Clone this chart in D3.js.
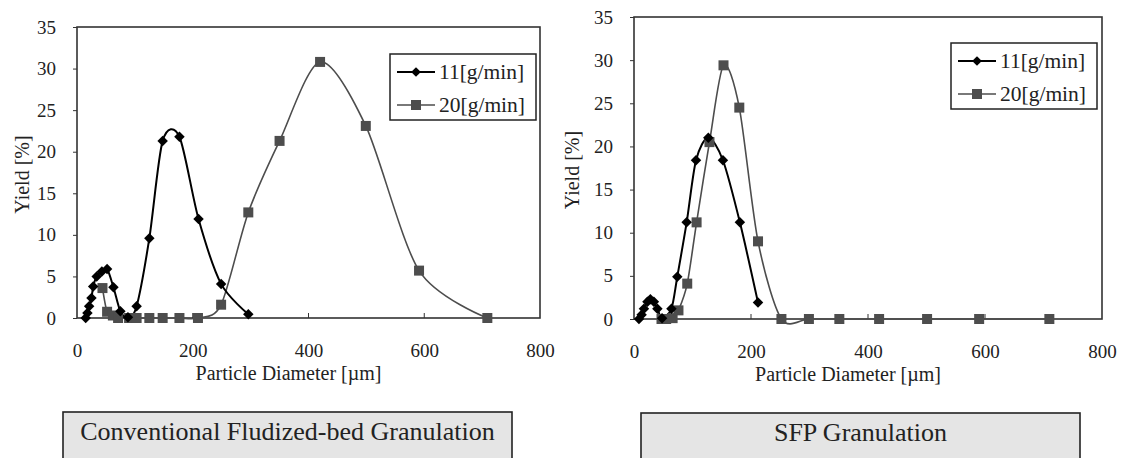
<!DOCTYPE html>
<html>
<head>
<meta charset="utf-8">
<script src="https://cdn.jsdelivr.net/npm/d3@7"></script>
<style>
  body { margin: 0; background: #fff; }
  text { font-family: "Liberation Serif", "Times New Roman", serif; fill: #222; }
</style>
</head>
<body>
<svg width="1123" height="458"></svg>
<script>
const svg = d3.select('svg');

///////////////////////////////////////////////////////////////
// data
///////////////////////////////////////////////////////////////
const seriesNames = ['11[g/min]', '20[g/min]'];
const panelTitles = ['Conventional Fludized-bed Granulation', 'SFP Granulation'];
const xTicks = [0, 200, 400, 600, 800];
const yTicks = [0, 5, 10, 15, 20, 25, 30, 35];

// conventional, 11 g/min
const convD11 = [15, 18, 21, 25, 28, 34, 43, 52, 63, 75, 88, 103, 125, 148, 177, 210, 249, 296];
const convY11 = [0, 0.6, 1.4, 2.4, 3.8, 5.0, 5.6, 5.9, 3.7, 0.8, 0.1, 1.4, 9.6, 21.3, 21.8, 11.9, 4.1, 0.45];
// conventional, 20 g/min
const convD20 = [44, 52, 62, 71, 90, 103, 125, 148, 177, 209, 249, 296, 350, 420, 499, 591, 709];
const convY20 = [3.6, 0.75, 0.3, 0, 0, 0, 0, 0, 0, 0, 1.6, 12.7, 21.3, 30.8, 23.1, 5.7, 0];

// SFP, 11 g/min
const sfpD11 = [8.5, 13, 17, 23, 28, 34, 40, 48, 64, 74, 90, 106, 127, 152, 181, 212];
const sfpY11 = [0, 0.5, 1.2, 2.0, 2.3, 2.0, 1.2, 0.1, 1.2, 4.9, 11.2, 18.4, 21.0, 18.4, 11.2, 1.9];
// SFP, 20 g/min
const sfpD20 = [47, 55, 66, 76, 91, 107, 129, 153, 180, 212, 252, 299, 351, 419, 501, 590, 710];
const sfpY20 = [0, 0, 0.1, 1.0, 4.1, 11.2, 20.5, 29.4, 24.5, 9.0, 0, 0, 0, 0, 0, 0, 0];

const zip = (xs, ys) => xs.map((x, i) => ({x: x, y: ys[i]}));

const colors = ['#000', '#4d4d4d'];
const widths = [2, 1.6];

///////////////////////////////////////////////////////////////
// one panel
///////////////////////////////////////////////////////////////
const drawPanel = (p) => {
    const g = svg.append('g');
    const xScale = d3.scaleLinear().domain([0, 800]).range([p.left, p.right]);
    const yScale = d3.scaleLinear().domain([0, 35]).range([p.bottom, p.top]);

    // y axis
    const yAxis = g.append('g')
        .attr('transform', `translate(${p.left},0)`)
        .call(d3.axisLeft(yScale).tickValues(yTicks).tickSize(4).tickPadding(17));
    yAxis.select('.domain').remove();
    yAxis.selectAll('line').attr('stroke', '#333');
    yAxis.selectAll('text').style('font-size', '19px').attr('fill', '#222')
        .style('font-family', '"Liberation Serif", serif');

    // x axis (ticks inside)
    const xAxis = g.append('g')
        .attr('transform', `translate(0,${p.bottom})`)
        .call(d3.axisBottom(xScale).tickValues(xTicks).tickSize(0).tickPadding(26));
    xAxis.select('.domain').remove();
    xAxis.selectAll('text').style('font-size', '19px').attr('fill', '#222')
        .style('font-family', '"Liberation Serif", serif');
    g.selectAll('.xtick')
        .data(xTicks.slice(1, -1))
        .enter().append('line')
        .attr('x1', d => xScale(d)).attr('x2', d => xScale(d))
        .attr('y1', p.bottom).attr('y2', p.bottom - 5)
        .attr('stroke', '#333');

    // frame
    g.append('rect')
        .attr('x', p.left).attr('y', p.top)
        .attr('width', p.right - p.left).attr('height', p.bottom - p.top)
        .attr('fill', 'none').attr('stroke', '#333').attr('stroke-width', 1.6);

    // axis titles
    g.append('text')
        .attr('transform', `translate(${p.yTitleX},${(p.top + p.bottom) / 2 + 2}) rotate(-90)`)
        .attr('text-anchor', 'middle').attr('dominant-baseline', 'central')
        .style('font-size', '20px')
        .text('Yield [%]');
    g.append('text')
        .attr('x', (p.left + p.right) / 2 - 20).attr('y', p.bottom + 55)
        .attr('text-anchor', 'middle').attr('dominant-baseline', 'central')
        .style('font-size', '20px')
        .text('Particle Diameter [\u00b5m]');

    // lines
    const line = d3.line()
        .x(d => xScale(d.x)).y(d => yScale(d.y))
        .curve(d3.curveCardinal.tension(0.15));

    p.series.slice().reverse().forEach((s, ri) => {
        const i = p.series.length - 1 - ri;
        g.append('path')
            .attr('d', line(s))
            .attr('fill', 'none')
            .attr('stroke', colors[i])
            .attr('stroke-width', widths[i]);
    });
    // markers: squares under diamonds
    g.selectAll('.sq')
        .data(p.series[1])
        .enter().append('rect')
        .attr('x', d => xScale(d.x) - 5).attr('y', d => yScale(d.y) - 5)
        .attr('width', 10).attr('height', 10)
        .attr('fill', colors[1]);
    g.selectAll('.dm')
        .data(p.series[0])
        .enter().append('path')
        .attr('d', d3.symbol(d3.symbolDiamond2, 70))
        .attr('transform', d => `translate(${xScale(d.x)},${yScale(d.y)})`)
        .attr('fill', colors[0]);

    // legend
    const lg = g.append('g');
    lg.append('rect')
        .attr('x', p.legend.x).attr('y', p.legend.y)
        .attr('width', 146).attr('height', 66)
        .attr('fill', '#fff').attr('stroke', '#222').attr('stroke-width', 1.5);
    seriesNames.forEach((name, i) => {
        const cy = p.legend.y + 18 + i * 33;
        const lx = p.legend.x + 7;
        lg.append('line')
            .attr('x1', lx).attr('x2', lx + 38)
            .attr('y1', cy).attr('y2', cy)
            .attr('stroke', colors[i]).attr('stroke-width', widths[i]);
        if (i === 0) {
            lg.append('path')
                .attr('d', d3.symbol(d3.symbolDiamond2, 60))
                .attr('transform', `translate(${lx + 19},${cy})`)
                .attr('fill', colors[0]);
        } else {
            lg.append('rect')
                .attr('x', lx + 14).attr('y', cy - 5)
                .attr('width', 10).attr('height', 10)
                .attr('fill', colors[1]);
        }
        lg.append('text')
            .attr('x', lx + 42).attr('y', cy)
            .attr('dominant-baseline', 'central')
            .style('font-size', '21.5px')
            .text(name);
    });

    // title box
    g.append('rect')
        .attr('x', p.box.x0).attr('y', p.box.y)
        .attr('width', p.box.x1 - p.box.x0).attr('height', 60)
        .attr('fill', '#e5e5e5').attr('stroke', '#222').attr('stroke-width', 1.6);
    g.append('text')
        .attr('x', (p.box.x0 + p.box.x1) / 2).attr('y', p.box.y + 19)
        .attr('text-anchor', 'middle').attr('dominant-baseline', 'central')
        .style('font-size', '26px')
        .text(p.title);
};

drawPanel({
    left: 77, right: 540, top: 27, bottom: 318, yTitleX: 22,
    series: [zip(convD11, convY11), zip(convD20, convY20)],
    legend: {x: 390, y: 54},
    box: {x0: 63, x1: 512, y: 412},
    title: panelTitles[0]
});

drawPanel({
    left: 634, right: 1102, top: 17, bottom: 319, yTitleX: 572,
    series: [zip(sfpD11, sfpY11), zip(sfpD20, sfpY20)],
    legend: {x: 951, y: 43},
    box: {x0: 641, x1: 1080, y: 413},
    title: panelTitles[1]
});
</script>
</body>
</html>
